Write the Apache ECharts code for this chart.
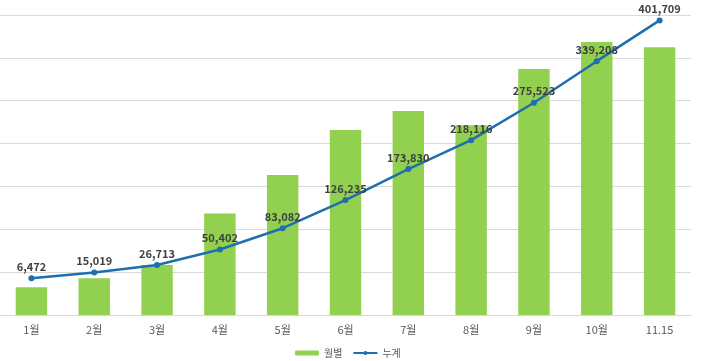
<!DOCTYPE html>
<html><head><meta charset="utf-8">
<script src="https://cdn.jsdelivr.net/npm/echarts@6/dist/echarts.min.js"></script>
<style>html,body{margin:0;padding:0;background:#fff}#c{width:703px;height:361px}</style>
</head><body><div id="c"></div>
<script>
const categories = ['1월','2월','3월','4월','5월','6월','7월','8월','9월','10월','11.15'];
const monthly = [6472, 8547, 11694, 23689, 32680, 43153, 47595, 44286, 57407, 63685, 62501];
const cumulative = [6472, 15019, 26713, 50402, 83082, 126235, 173830, 218116, 275523, 339208, 401709];
const seriesNames = ['월별', '누계'];

const font = '"Noto Sans CJK KR", "Noto Sans", sans-serif';
const chart = echarts.init(document.getElementById('c'));
chart.setOption({
  animation: false,
  backgroundColor: '#fff',
  grid: { left: -3, right: 12, top: 15, bottom: 46, containLabel: false },
  legend: {
    data: seriesNames,
    left: 290, top: 343,
    itemWidth: 24, itemHeight: 5, itemGap: 10,
    textStyle: { fontFamily: font, fontSize: 10, color: '#595959' }
  },
  xAxis: {
    type: 'category', data: categories, boundaryGap: true,
    axisLine: { lineStyle: { color: '#d9d9d9' } },
    axisTick: { show: false },
    axisLabel: { fontFamily: font, fontSize: 11, color: '#595959', margin: 9 }
  },
  yAxis: [
    { type: 'value', min: 0, max: 70000, interval: 10000,
      axisLabel: { show: false }, axisLine: { show: false }, axisTick: { show: false },
      splitLine: { lineStyle: { color: '#d9d9d9', width: 1 } } },
    { type: 'value', min: -50000, max: 410000,
      axisLabel: { show: false }, axisLine: { show: false }, axisTick: { show: false },
      splitLine: { show: false } }
  ],
  series: [
    { name: seriesNames[0], type: 'bar', data: monthly, yAxisIndex: 0,
      barWidth: '50%', itemStyle: { color: '#92D050' } },
    { name: seriesNames[1], type: 'line', data: cumulative, yAxisIndex: 1,
      symbol: 'circle', symbolSize: 6,
      lineStyle: { color: '#1F6FAE', width: 2.5 },
      itemStyle: { color: '#1F6FAE' },
      label: { show: true, position: 'top', distance: 3,
        fontFamily: font, fontSize: 11, fontWeight: 'bold', color: '#404040',
        formatter: p => p.value.toLocaleString('en-US') } }
  ]
});
</script></body></html>
